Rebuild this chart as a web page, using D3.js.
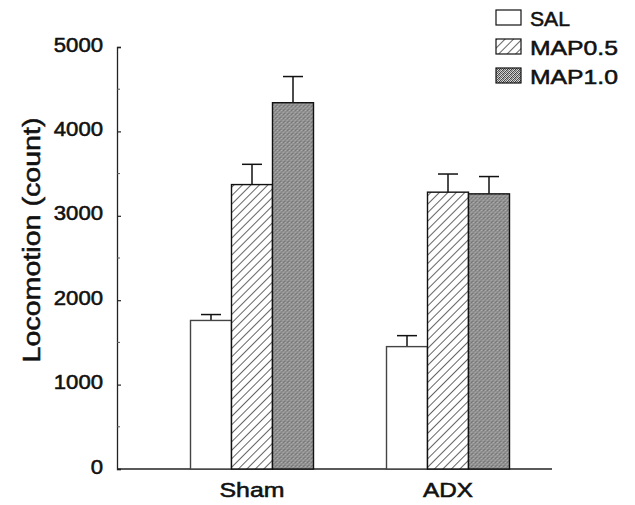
<!DOCTYPE html>
<html>
<head>
<meta charset="utf-8">
<script src="https://cdn.jsdelivr.net/npm/d3@7"></script>
<style>
  body { margin: 0; background: #fff; }
  text { font-family: "Liberation Sans", Arial, sans-serif; fill: #111; stroke: #111; stroke-width: 0.55px; }
</style>
</head>
<body>
<script>
// data
var groups = ["Sham", "ADX"];
var series = ["SAL", "MAP0.5", "MAP1.0"];
var means = [[1760, 3370, 4340], [1450, 3280, 3260]];
var errors = [[70, 240, 310], [130, 215, 205]];
var yTicks = [0, 1000, 2000, 3000, 4000, 5000];

var width = 635, height = 505;

var svg = d3.select("body").append("svg")
    .attr("width", width)
    .attr("height", height);

// fill patterns
var defs = svg.append("defs");
var hatch = defs.append("pattern")
    .attr("id", "hatch")
    .attr("patternUnits", "userSpaceOnUse")
    .attr("width", 6).attr("height", 6)
    .attr("patternTransform", "rotate(45)");
hatch.append("rect").attr("width", 6).attr("height", 6).attr("fill", "#fff");
hatch.append("line").attr("x1", 0).attr("y1", 0).attr("x2", 0).attr("y2", 6)
    .attr("stroke", "#111").attr("stroke-width", 1.3);

// grey stipple, 4x4 tile
var stip = defs.append("pattern")
    .attr("id", "stipple")
    .attr("patternUnits", "userSpaceOnUse")
    .attr("width", 4).attr("height", 4);
var stipCells = ["#444", "#ccc", "#666", "#e0e0e0",
                 "#bbb", "#555", "#d8d8d8", "#3a3a3a",
                 "#777", "#e4e4e4", "#444", "#aaa",
                 "#d0d0d0", "#4a4a4a", "#c4c4c4", "#606060"];
stipCells.forEach(function(c, i) {
  stip.append("rect")
      .attr("x", i % 4).attr("y", Math.floor(i / 4))
      .attr("width", 1).attr("height", 1)
      .attr("fill", c);
});

var fills = {"SAL": "#fff", "MAP0.5": "url(#hatch)", "MAP1.0": "url(#stipple)"};

// scales
var y = d3.scaleLinear().domain([0, 5000]).range([469, 47]);
var x0 = d3.scalePoint().domain(groups).range([252, 448]);
var x1 = d3.scaleBand().domain(series).range([-61.5, 61.5]);
var barW = x1.bandwidth();
var axisX = 117;

// x baseline
svg.append("line")
    .attr("x1", axisX).attr("x2", 552)
    .attr("y1", y(0)).attr("y2", y(0))
    .attr("stroke", "#222").attr("stroke-width", 1.3);

// bars
var rows = [];
groups.forEach(function(g, gi) {
  series.forEach(function(s, si) {
    rows.push({group: g, series: s, value: means[gi][si], err: errors[gi][si]});
  });
});

var bar = svg.selectAll("g.bar")
    .data(rows)
    .enter().append("g")
    .attr("class", "bar")
    .attr("transform", function(d) { return "translate(" + (x0(d.group) + x1(d.series)) + ",0)"; });

// error bars (upper only)
bar.append("line")
    .attr("x1", barW / 2).attr("x2", barW / 2)
    .attr("y1", function(d) { return y(d.value); })
    .attr("y2", function(d) { return y(d.value + d.err); })
    .attr("stroke", "#111").attr("stroke-width", 1.5);
bar.append("line")
    .attr("x1", barW / 2 - 10).attr("x2", barW / 2 + 10)
    .attr("y1", function(d) { return y(d.value + d.err); })
    .attr("y2", function(d) { return y(d.value + d.err); })
    .attr("stroke", "#111").attr("stroke-width", 1.5);

bar.append("rect")
    .attr("x", 0)
    .attr("width", barW)
    .attr("y", function(d) { return y(d.value); })
    .attr("height", function(d) { return y(0) - y(d.value); })
    .attr("fill", function(d) { return fills[d.series]; })
    .attr("stroke", function(d) { return d.series == "SAL" ? "#444" : "#111"; })
    .attr("stroke-width", 1.4);

// y axis, ticks point inward
var yAxis = d3.axisLeft(y)
    .tickValues(yTicks)
    .tickSize(-4)
    .tickPadding(14)
    .tickFormat(d3.format("d"));

var yG = svg.append("g")
    .attr("transform", "translate(" + axisX + ",0)")
    .call(yAxis);
yG.select(".domain").attr("stroke", "#222").attr("stroke-width", 1.3);
yG.selectAll(".tick line").attr("stroke", "#222").attr("stroke-width", 1.2);
yG.selectAll(".tick text")
    .attr("dy", "0.2em")
    .style("font-size", "20px")
    .style("font-family", "Liberation Sans, Arial, sans-serif")
    .attr("fill", "#111")
    .attr("textLength", function(d) { return String(d).length * 12.3; })
    .attr("lengthAdjust", "spacingAndGlyphs");

// minor ticks at 500s
svg.selectAll("line.minor")
    .data([500, 1500, 2500, 3500, 4500])
    .enter().append("line")
    .attr("class", "minor")
    .attr("x1", axisX).attr("x2", axisX + 3)
    .attr("y1", function(d) { return y(d); })
    .attr("y2", function(d) { return y(d); })
    .attr("stroke", "#555").attr("stroke-width", 1);

// group labels
svg.selectAll("text.group")
    .data(groups)
    .enter().append("text")
    .attr("class", "group")
    .attr("x", function(d) { return x0(d); })
    .attr("y", 497)
    .attr("text-anchor", "middle")
    .style("font-size", "21px")
    .attr("textLength", function(d) { return d == "Sham" ? 65 : 50; })
    .attr("lengthAdjust", "spacingAndGlyphs")
    .text(function(d) { return d; });

// y title
svg.append("text")
    .attr("transform", "translate(40,240) rotate(-90)")
    .attr("text-anchor", "middle")
    .style("font-size", "23px")
    .attr("textLength", 245)
    .attr("lengthAdjust", "spacingAndGlyphs")
    .text("Locomotion (count)");

// legend
var legend = svg.selectAll("g.legend")
    .data(series)
    .enter().append("g")
    .attr("class", "legend")
    .attr("transform", function(d, i) { return "translate(496," + (10 + i * 29) + ")"; });

legend.append("rect")
    .attr("width", 25).attr("height", 15)
    .attr("fill", function(d) { return fills[d]; })
    .attr("stroke", "#111").attr("stroke-width", 1.2);

legend.append("text")
    .attr("x", 34)
    .attr("y", 16)
    .style("font-size", "21px")
    .attr("textLength", function(d) { return d == "SAL" ? 40 : 88; })
    .attr("lengthAdjust", "spacingAndGlyphs")
    .text(function(d) { return d; });
</script>
</body>
</html>
